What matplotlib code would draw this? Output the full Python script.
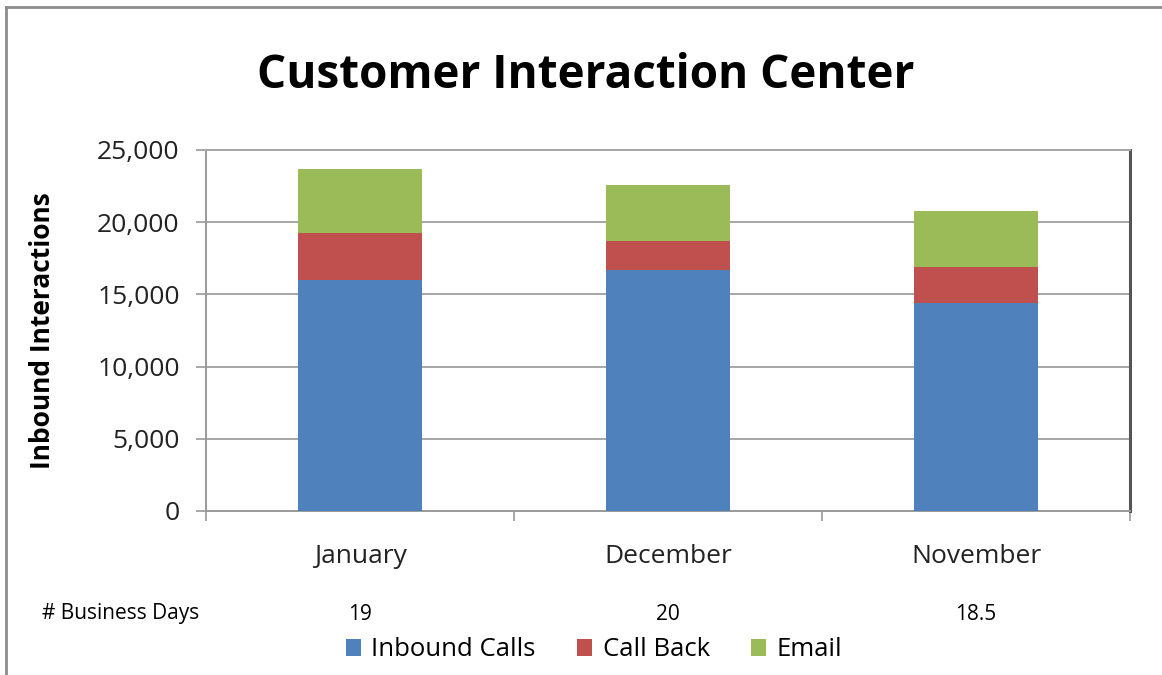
import numpy as np
import matplotlib
matplotlib.use("Agg")
import matplotlib.pyplot as plt
import matplotlib.transforms as mtransforms
from matplotlib.patches import Patch
from matplotlib.lines import Line2D

plt.rcParams['font.family'] = ['Open Sans', 'DejaVu Sans']

# data
months = ["January", "December", "November"]
inbound_calls = [16000, 16700, 14400]
call_back = [3270, 2030, 2500]
email = [4410, 3860, 3880]
business_days = ["19", "20", "18.5"]
series_names = ["Inbound Calls", "Call Back", "Email"]
colors = ["#4F81BD", "#C0504D", "#9BBB59"]

fig = plt.figure(figsize=(11.62, 6.75), dpi=100)
ax = fig.add_axes([206/1162, 1 - 511/675, 924/1162, 361/675])

x = np.arange(len(months))
w = 0.4
bottom = np.zeros(len(months))
for vals, c in zip([inbound_calls, call_back, email], colors):
    ax.bar(x, vals, w, bottom=bottom, color=c, zorder=3)
    bottom += np.array(vals)

ax.set_xlim(-0.5, len(months) - 0.5)
ax.set_ylim(0, 25000)
ax.set_yticks(np.arange(0, 25001, 5000))
ax.set_yticklabels([f"{v:,}" for v in range(0, 25001, 5000)], fontsize=19, color="#222222")
ax.yaxis.grid(True, color="#a6a6a6", linewidth=1.4, zorder=0)

# month labels at centres, tick marks at category boundaries
ax.set_xticks(x)
ax.set_xticklabels(months, fontsize=19, color="#222222")
ax.tick_params(axis='x', which='major', length=0, pad=24)
ax.set_xticks(np.arange(-0.5, len(months)), minor=True)
ax.tick_params(axis='x', which='minor', length=7, width=1.2, color="#9a9a9a", direction='out')
ax.tick_params(axis='y', length=7, width=1.2, color="#9a9a9a", pad=12)

for side in ['left', 'bottom']:
    ax.spines[side].set_color("#9a9a9a")
    ax.spines[side].set_linewidth(1.4)
ax.spines['top'].set_color("#a6a6a6")
ax.spines['top'].set_linewidth(1.4)
ax.spines['right'].set_color("#555555")
ax.spines['right'].set_linewidth(2.2)

ax.set_ylabel("Inbound Interactions", fontsize=19, fontweight='bold')
ax.yaxis.set_label_coords(-150/924, 0.5)

fig.text(586/1162, 1 - 75/675, "Customer Interaction Center", fontsize=33,
         fontweight='bold', ha='center', va='center')

# business days row under the month labels
fig.text(42/1162, 1 - 614/675, "# Business Days", fontsize=15, va='center', ha='left')
row = mtransforms.blended_transform_factory(ax.transData, fig.transFigure)
for xi, d in zip(x, business_days):
    ax.text(xi, 1 - 614/675, d, transform=row, fontsize=15, ha='center', va='center')

handles = [Patch(facecolor=c, edgecolor='none') for c in colors]
fig.legend(handles, series_names, loc='center', bbox_to_anchor=(594/1162, 1 - 650/675),
           ncol=3, frameon=False, fontsize=18.5, handlelength=0.6, handleheight=0.6,
           handletextpad=0.4, columnspacing=1.6)

# chart frame
fig.add_artist(Line2D([6/1162, 6/1162], [0, 1 - 7/675], transform=fig.transFigure,
                      color="#8c8c8c", linewidth=2))
fig.add_artist(Line2D([6/1162, 1], [1 - 7/675, 1 - 7/675], transform=fig.transFigure,
                      color="#8c8c8c", linewidth=2))

fig.savefig("out.png", dpi=100)
